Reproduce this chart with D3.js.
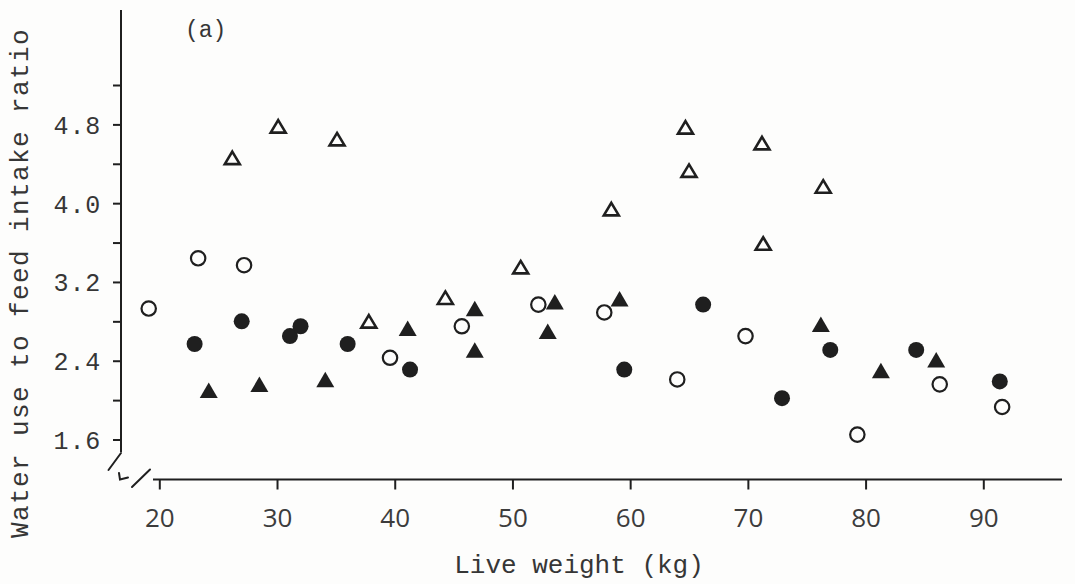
<!DOCTYPE html>
<html>
<head>
<meta charset="utf-8">
<script src="https://cdn.jsdelivr.net/npm/d3@7"></script>
<style>
  html, body { margin: 0; padding: 0; background: #fdfdfc; }
  svg { display: block; }
  .mono { font-family: "Liberation Mono", "DejaVu Sans Mono", monospace; fill: #363636; }
  .sans { font-family: "Open Sans", "Liberation Sans", sans-serif; fill: #3c3c3c; }
</style>
</head>
<body>
<svg id="chart" width="1075" height="584"></svg>
<script>
// Live weight (kg) and water use : feed intake ratio, four groups of pigs
const openTriWeight   = [26.2, 30.1, 35.1, 37.8, 44.3, 50.7, 58.4, 64.7, 65.0, 71.2, 71.3, 76.4];
const openTriRatio    = [4.46, 4.78, 4.65, 2.80, 3.04, 3.35, 3.94, 4.77, 4.33, 4.61, 3.59, 4.17];

const filledTriWeight = [24.2, 28.5, 34.1, 41.1, 46.8, 46.8, 53.0, 53.6, 59.1, 76.2, 81.3, 86.0];
const filledTriRatio  = [2.10, 2.16, 2.21, 2.73, 2.93, 2.51, 2.70, 3.00, 3.03, 2.77, 2.30, 2.41];

const filledDotWeight = [23.0, 27.0, 31.1, 32.0, 36.0, 41.3, 59.5, 66.2, 72.9, 77.0, 84.3, 91.4];
const filledDotRatio  = [2.57, 2.80, 2.65, 2.75, 2.57, 2.31, 2.31, 2.97, 2.02, 2.51, 2.51, 2.19];

const openDotWeight   = [19.1, 23.3, 27.2, 39.6, 45.7, 52.2, 57.8, 64.0, 69.8, 79.3, 86.3, 91.6];
const openDotRatio    = [2.93, 3.44, 3.37, 2.43, 2.75, 2.97, 2.89, 2.21, 2.65, 1.65, 2.16, 1.93];

const xTicks = [20, 30, 40, 50, 60, 70, 80, 90];
const yTicks = [1.6, 2.0, 2.4, 2.8, 3.2, 3.6, 4.0, 4.4, 4.8, 5.2];
const yLabels = ["1.6", "2.4", "3.2", "4.0", "4.8"];

const panelLabel = "(a)";
const xTitle = "Live weight (kg)";
const yTitle = "Water use to feed intake ratio";

const svg = d3.select("#chart");
const ink = "#1f1f1f";

const x = d3.scaleLinear().domain([20, 90]).range([159.3, 983.3]);
const y = d3.scaleLinear().domain([1.6, 5.2]).range([439.5, 85]);

const axisX = 121;     // position of the vertical axis
const axisY = 479.5;   // position of the horizontal axis

// ---- vertical axis: line, ticks to the left, labels on alternate ticks
svg.append("line")
  .attr("x1", axisX).attr("x2", axisX)
  .attr("y1", 10).attr("y2", 452)
  .attr("stroke", ink).attr("stroke-width", 2);

const gy = svg.append("g")
  .attr("transform", `translate(${axisX},0)`)
  .call(d3.axisLeft(y).tickValues(yTicks).tickSize(8).tickSizeOuter(0)
        .tickFormat(d => { const s = d.toFixed(1); return yLabels.includes(s) ? s : ""; }));
gy.select(".domain").remove();
gy.selectAll(".tick line").attr("stroke", ink).attr("stroke-width", 2);
gy.selectAll(".tick text")
  .attr("class", "mono")
  .attr("x", -20).attr("dy", "0.36em")
  .style("font-size", "25px")
  .style("letter-spacing", "0.8px");

// ---- horizontal axis: line, ticks downward, sans-serif labels
svg.append("line")
  .attr("x1", 153).attr("x2", 1062)
  .attr("y1", axisY).attr("y2", axisY)
  .attr("stroke", ink).attr("stroke-width", 2);

const gx = svg.append("g")
  .attr("transform", `translate(0,${axisY})`)
  .call(d3.axisBottom(x).tickValues(xTicks).tickSize(10).tickSizeOuter(0).tickFormat(d3.format("d")));
gx.select(".domain").remove();
gx.selectAll(".tick line").attr("stroke", ink).attr("stroke-width", 2);
gx.selectAll(".tick text")
  .attr("class", "sans")
  .attr("y", 47).attr("dy", 0)
  .style("font-size", "26px");

// ---- axis break marks at the origin corner
const brk = svg.append("g").attr("stroke", ink).attr("stroke-width", 2).attr("fill", "none")
  .attr("stroke-linecap", "round");
brk.append("line").attr("x1", axisX).attr("y1", 453).attr("x2", axisX - 12.5).attr("y2", 470);
brk.append("path").attr("d", `M${axisX - 2},473 L${axisX - 1},${axisY} L${axisX + 7},${axisY - 2}`);
brk.append("line").attr("x1", 150).attr("y1", 469.5).attr("x2", 132).attr("y2", 487);

// ---- markers
function triangleShape(w, h) {
  return {
    draw(ctx) {
      ctx.moveTo(0, -h / 2);
      ctx.lineTo(w / 2, h / 2);
      ctx.lineTo(-w / 2, h / 2);
      ctx.closePath();
    }
  };
}
const zip = (a, b) => a.map((v, i) => [v, b[i]]);

const marks = svg.append("g");

marks.selectAll(".open-dot").data(zip(openDotWeight, openDotRatio)).join("circle")
  .attr("class", "open-dot")
  .attr("cx", d => x(d[0])).attr("cy", d => y(d[1])).attr("r", 7.2)
  .attr("fill", "#fdfdfc").attr("stroke", ink).attr("stroke-width", 2.2);

marks.selectAll(".filled-dot").data(zip(filledDotWeight, filledDotRatio)).join("circle")
  .attr("class", "filled-dot")
  .attr("cx", d => x(d[0])).attr("cy", d => y(d[1])).attr("r", 8)
  .attr("fill", ink);

const openTri = d3.symbol().type(triangleShape(15, 12.5));
marks.selectAll(".open-tri").data(zip(openTriWeight, openTriRatio)).join("path")
  .attr("class", "open-tri")
  .attr("transform", d => `translate(${x(d[0])},${y(d[1])})`)
  .attr("d", openTri)
  .attr("fill", "#fdfdfc").attr("stroke", ink).attr("stroke-width", 2.6)
  .attr("stroke-linejoin", "miter");

const filledTri = d3.symbol().type(triangleShape(18, 15.5));
marks.selectAll(".filled-tri").data(zip(filledTriWeight, filledTriRatio)).join("path")
  .attr("class", "filled-tri")
  .attr("transform", d => `translate(${x(d[0])},${y(d[1])})`)
  .attr("d", filledTri)
  .attr("fill", ink);

// ---- text
svg.append("text").attr("class", "mono")
  .attr("x", 185).attr("y", 37)
  .style("font-size", "23px")
  .text(panelLabel);

svg.append("text").attr("class", "mono")
  .attr("x", 579).attr("y", 573)
  .attr("text-anchor", "middle")
  .style("font-size", "26px")
  .text(xTitle);

svg.append("text").attr("class", "mono")
  .attr("transform", "translate(28,283) rotate(-90)")
  .attr("text-anchor", "middle")
  .style("font-size", "26px")
  .style("letter-spacing", "1.4px")
  .text(yTitle);
</script>
</body>
</html>
